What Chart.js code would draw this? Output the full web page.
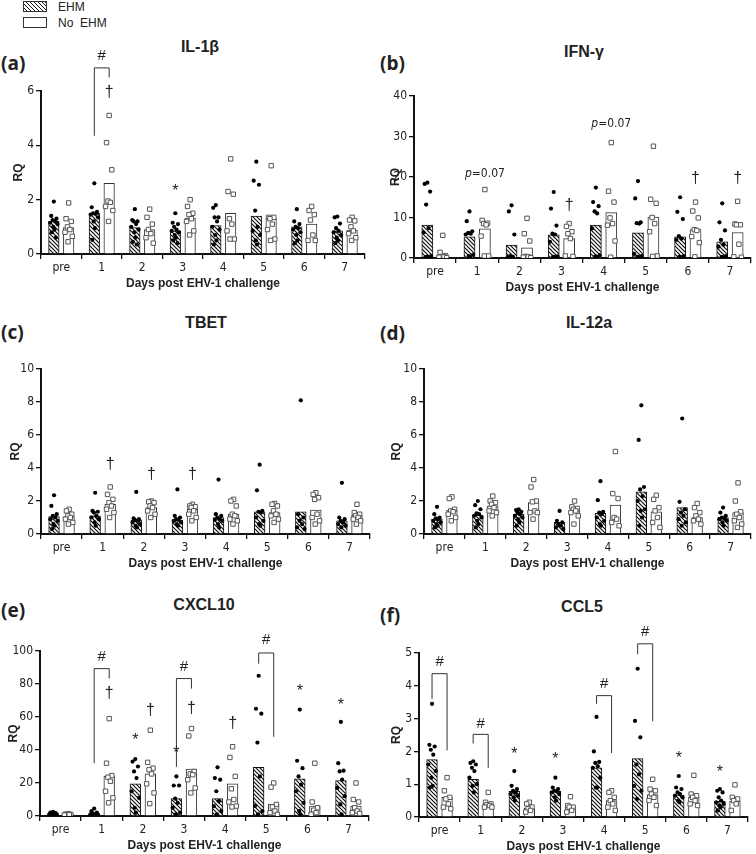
<!DOCTYPE html>
<html>
<head>
<meta charset="utf-8">
<script src="https://cdn.jsdelivr.net/npm/chart.js@4.4.1/dist/chart.umd.min.js"></script>
<style>
  body{margin:0;background:#fff;width:756px;height:854px;position:relative;overflow:hidden;
       font-family:'Liberation Sans',Arial,sans-serif;color:#222}
  canvas{position:absolute}
  .ttl{position:absolute;font-weight:bold;font-size:16px;transform:translate(-50%,-50%);white-space:nowrap}
  .let{position:absolute;font-weight:bold;font-size:19px;transform:translateY(-50%);font-family:'Open Sans','Liberation Sans',sans-serif}
  .leg{position:absolute;left:23px;width:24px;height:11px;border:1px solid #333;box-sizing:border-box}
  .legt{position:absolute;left:58px;font-size:12px;transform:translateY(-50%)}
</style>
</head>
<body>
<div class="leg" style="top:1px;background:repeating-linear-gradient(45deg,#fff 0 1.6px,#111 1.6px 2.8px)"></div>
<div class="legt" style="top:7px">EHM</div>
<div class="leg" style="top:17px;background:#fff"></div>
<div class="legt" style="top:23px">No&nbsp; EHM</div>

<div class="let" style="left:1px;top:63px">(a)</div>
<div class="let" style="left:380px;top:63px">(b)</div>
<div class="let" style="left:1px;top:332px">(c)</div>
<div class="let" style="left:380px;top:333px">(d)</div>
<div class="let" style="left:1px;top:610px">(e)</div>
<div class="let" style="left:380px;top:615px">(f)</div>

<div class="ttl" style="left:200px;top:47px">IL-1β</div>
<div class="ttl" style="left:584px;top:52px">IFN-γ</div>
<div class="ttl" style="left:206px;top:323px">TBET</div>
<div class="ttl" style="left:589px;top:323px">IL-12a</div>
<div class="ttl" style="left:204px;top:605px">CXCL10</div>
<div class="ttl" style="left:582px;top:607px">CCL5</div>

<canvas id="cA"></canvas><canvas id="cB"></canvas>
<canvas id="cC"></canvas><canvas id="cD"></canvas>
<canvas id="cE"></canvas><canvas id="cF"></canvas>

<script>
const days = ['pre','1','2','3','4','5','6','7'];

// ---- IL-1β ----
const il1bBarEHM = [1.2, 1.5, 0.97, 0.85, 1.05, 1.4, 1.0, 0.85];
const il1bBarNo  = [0.97, 2.6, 0.9, 1.32, 1.5, 1.3, 1.1, 0.88];
const il1bPtsEHM = [
  [1.93,1.4,1.3,1.25,1.2,1.15,1.1,1.0,0.9,0.8,0.6],
  [2.6,1.72,1.55,1.5,1.48,1.45,1.35,1.2,0.95,0.52],
  [1.65,1.25,1.2,1.2,1.1,1.0,0.9,0.8,0.6,0.45,0.35],
  [1.5,1.15,1.1,1.0,0.9,0.85,0.8,0.7,0.6,0.5,0.4],
  [1.8,1.7,1.35,1.35,1.2,1.0,0.9,0.7,0.5,0.35],
  [3.4,2.7,2.55,1.6,1.0,0.85,0.7,0.5,0.35],
  [1.65,1.2,1.1,1.0,0.95,0.9,0.8,0.7,0.5,0.4],
  [1.38,1.35,1.12,0.95,0.85,0.8,0.7,0.6,0.5,0.4]
];
const il1bPtsNo = [
  [1.88,1.3,1.2,1.0,0.9,0.8,0.65,0.45],
  [5.1,4.1,3.1,1.95,1.9,1.75,1.6,1.2],
  [1.65,1.35,1.1,0.9,0.75,0.6,0.4],
  [2.0,1.75,1.5,1.45,1.3,1.2,0.85,0.7],
  [3.5,2.3,2.2,1.3,1.1,0.85,0.55,0.55],
  [3.25,1.35,1.35,1.3,1.1,0.9,0.55,0.5],
  [1.75,1.6,1.45,1.25,0.7,0.5,0.5],
  [1.35,1.25,1.22,1.0,0.85,0.75,0.6,0.5]
];
const il1bMarks = [{day:1,grp:'n',y:5.95,t:'†'},{day:3,grp:'e',y:2.4,t:'*'}];
const il1bBrackets = [{day:1,top:6.85,left:4.35,right:6.5,hash:7.3}];

// ---- IFN-γ ----
const ifngBarEHM = [8.1, 5.2, 3.2, 5.7, 8.1, 6.2, 5.2, 4.0];
const ifngBarNo  = [0.8, 7.2, 2.5, 4.8, 11.2, 10.1, 7.0, 6.3];
const ifngPtsEHM = [
  [18.6,18.3,16.4,13.2,7.4,6.3,0.5,0.3,0.2,0.1],
  [11.5,9.1,6.6,6.2,6.0,5.8,0.8,0.5,0.3],
  [13.0,11.5,5.8,0.5,0.3,0.2],
  [16.3,12.2,8.0,6.0,5.8,4.0,0.4,0.3,0.2],
  [17.4,13.8,12.8,11.5,11.0,7.3,0.7,0.4,0.3],
  [19.0,14.7,8.8,8.6,8.5,1.0,0.5,0.3,0.2],
  [15.0,11.4,9.6,5.4,4.8,4.5,0.5,0.3,0.2],
  [13.5,8.8,6.8,4.5,3.3,2.8,0.5,0.3,0.2]
];
const ifngPtsNo = [
  [5.6,1.4,0.6,0.4,0.3,0.2,0.1],
  [16.9,9.3,8.6,8.5,8.2,5.4,0.5,0.5],
  [9.8,6.0,4.2,0.4,0.3,0.2,0.1],
  [8.5,7.8,6.5,6.0,4.8,0.5,0.4],
  [28.5,16.5,13.8,9.9,8.5,8.1,4.2,0.2],
  [27.6,14.5,13.5,10.0,8.5,6.5,0.5,0.4],
  [13.8,11.6,9.9,7.0,6.8,5.3,3.8,0.3],
  [14.0,8.4,8.2,8.2,3.4,0.3,0.2]
];
const ifngMarks = [
  {day:3,grp:'n',y:13,t:'†'},{day:6,grp:'n',y:19.7,t:'†'},{day:7,grp:'n',y:19.7,t:'†'},
  {day:1,grp:'n',y:20.7,t:'p=0.07'},{day:4,grp:'n',y:33,t:'p=0.07'}
];

// ---- TBET ----
const tbetBarEHM = [1.05, 1.1, 0.85, 0.85, 1.0, 1.35, 1.35, 0.8];
const tbetBarNo  = [1.05, 1.8, 1.6, 1.5, 1.2, 1.3, 1.45, 1.15];
const tbetPtsEHM = [
  [2.35,1.7,1.2,1.1,1.0,0.9,0.8,0.6,0.5,0.3],
  [2.5,1.4,1.35,1.3,1.1,1.0,0.9,0.7,0.5],
  [2.55,0.95,0.9,0.85,0.8,0.7,0.6,0.5,0.4],
  [2.7,1.1,1.0,0.9,0.85,0.8,0.7,0.6,0.5],
  [3.3,1.2,1.1,1.0,0.9,0.85,0.8,0.6,0.4],
  [4.2,2.65,1.4,1.35,1.3,1.0,0.8,0.6,0.5],
  [8.1,1.2,1.0,0.8,0.6,0.4,0.3],
  [3.1,1.0,0.9,0.8,0.7,0.6,0.5,0.4]
];
const tbetPtsNo = [
  [1.5,1.4,1.2,1.1,1.0,0.9,0.7,0.6],
  [2.85,2.4,2.1,1.9,1.7,1.5,1.3,1.0],
  [2.0,1.95,1.9,1.7,1.6,1.4,1.2,1.0],
  [1.8,1.7,1.65,1.6,1.4,1.2,1.0,0.8],
  [2.1,2.0,1.7,1.2,1.1,0.9,0.8,0.6],
  [1.85,1.8,1.7,1.4,1.2,1.1,0.9,0.7],
  [2.5,2.4,2.2,2.1,1.2,1.0,0.8,0.6],
  [1.8,1.3,1.2,1.1,1.0,0.9,0.8,0.6]
];
const tbetMarks = [{day:1,grp:'n',y:4.2,t:'†'},{day:2,grp:'n',y:3.6,t:'†'},{day:3,grp:'n',y:3.6,t:'†'}];

// ---- IL-12a ----
const il12BarEHM = [0.9, 1.15, 1.2, 0.7, 1.25, 2.55, 1.6, 1.0];
const il12BarNo  = [1.45, 1.7, 1.9, 1.4, 1.75, 1.35, 1.0, 1.3];
const il12PtsEHM = [
  [1.65,1.2,1.0,0.95,0.9,0.8,0.7,0.6,0.5,0.4],
  [2.0,1.75,1.5,1.25,1.2,1.1,1.0,0.8,0.6,0.4],
  [1.5,1.45,1.35,1.3,1.2,1.1,1.0,0.9,0.7,0.5],
  [1.4,0.8,0.7,0.6,0.5,0.4,0.3],
  [3.2,2.05,1.35,1.3,1.2,1.0,0.8,0.6,0.5],
  [7.8,5.7,2.85,2.7,2.3,2.0,1.5,1.4,1.0,0.5],
  [7.0,1.95,1.5,1.3,1.1,0.9,0.7,0.5],
  [1.6,1.3,1.1,1.0,0.95,0.9,0.8,0.7,0.5]
];
const il12PtsNo = [
  [2.25,2.15,1.5,1.4,1.35,1.2,1.0,0.8],
  [2.3,2.0,1.9,1.8,1.6,1.4,1.3,1.1],
  [3.3,2.85,2.0,1.95,1.4,1.3,1.3,0.9],
  [2.0,1.65,1.55,1.5,1.4,1.3,1.1,0.6],
  [5.0,2.45,2.15,1.0,0.9,0.7,0.5],
  [2.35,2.1,1.6,1.4,1.0,0.7,0.4],
  [1.85,1.6,1.3,1.1,0.9,0.8,0.6],
  [3.1,2.0,1.35,1.2,1.0,0.8,0.6,0.4]
];

// ---- CXCL10 ----
const cxclBarEHM = [1.5, 1.5, 19.5, 10.5, 10.5, 29.5, 22.5, 21.5];
const cxclBarNo  = [1.0, 24, 25.5, 28.5, 19.5, 7.2, 6, 6];
const cxclPtsEHM = [
  [2.5,2.0,1.8,1.5,1.2,1.0,0.8,0.5],
  [4.5,3.0,2.0,1.5,1.2,1.0,0.8,0.5],
  [34.5,33,30,27,23,15,11,5,2],
  [24,18.5,18.5,10.5,8,5,2,1],
  [29.5,23,22,15,9,6,3,1],
  [85,65,62,44.5,24,6,3,1],
  [64.5,33.5,29,24,19,15,8,3,1],
  [57,32,27.5,27,22,17,12,7,1]
];
const cxclPtsNo = [
  [1.3,1.1,1.0,0.9,0.8,0.6],
  [59,32,24.5,23.5,21,15,11,8],
  [52,32.5,29,28,25.5,19.5,14,7.5],
  [53,48.5,27,25.5,25,22,17,14],
  [42,35.5,24,16.5,10,8.5,6,5.5],
  [20,17.5,7,5.5,3,2,1],
  [32,8.5,5,3.5,2,1],
  [20,10,8.5,5,3,2,1.5]
];
const cxclMarks = [
  {day:1,grp:'n',y:74,t:'†'},{day:2,grp:'e',y:47.5,t:'*'},{day:2,grp:'n',y:64,t:'†'},
  {day:3,grp:'e',y:39.5,t:'*'},{day:3,grp:'n',y:65,t:'†'},{day:4,grp:'n',y:56,t:'†'},
  {day:6,grp:'e',y:77,t:'*'},{day:7,grp:'e',y:69,t:'*'}
];
const cxclBrackets = [
  {day:1,top:89.3,left:31.9,right:83.3,hash:96.4},
  {day:3,top:83.3,left:29.8,right:77.2,hash:90.3},
  {day:5,top:98.8,left:92.3,right:48,hash:106.5}
];

// ---- CCL5 ----
const ccl5BarEHM = [1.75, 1.15, 0.78, 0.78, 1.5, 1.78, 0.67, 0.48];
const ccl5BarNo  = [0.6, 0.4, 0.27, 0.3, 0.5, 0.68, 0.6, 0.48];
const ccl5PtsEHM = [
  [3.45,2.2,2.15,2.05,1.9,1.6,1.4,1.2,0.95,0.9],
  [1.7,1.65,1.6,1.5,1.4,1.2,1.0,0.95,0.75],
  [1.4,0.95,0.85,0.8,0.75,0.7,0.65,0.6,0.5],
  [1.2,0.9,0.85,0.8,0.78,0.75,0.7,0.6,0.5],
  [3.05,2.0,1.68,1.65,1.55,1.5,1.2,0.9,0.9],
  [4.52,2.93,2.43,1.6,1.3,0.95,0.8,0.55],
  [1.25,0.9,0.85,0.75,0.7,0.65,0.6,0.5,0.45],
  [0.85,0.8,0.75,0.6,0.5,0.45,0.4,0.35,0.3,0.2]
];
const ccl5PtsNo = [
  [1.2,0.8,0.6,0.55,0.4,0.3,0.25],
  [0.75,0.45,0.4,0.38,0.35,0.3,0.3],
  [0.45,0.4,0.3,0.25,0.2,0.15],
  [0.62,0.35,0.3,0.3,0.2,0.15],
  [0.8,0.75,0.6,0.5,0.4,0.3,0.2],
  [1.15,0.85,0.8,0.7,0.6,0.5,0.35],
  [1.27,0.7,0.65,0.6,0.5,0.4,0.35],
  [0.98,0.6,0.55,0.5,0.4,0.2]
];
const ccl5Marks = [
  {day:2,grp:'e',y:2.0,t:'*'},{day:3,grp:'e',y:1.85,t:'*'},
  {day:6,grp:'e',y:1.88,t:'*'},{day:7,grp:'e',y:1.44,t:'*'}
];
const ccl5Brackets = [
  {day:0,top:4.37,left:3.6,right:2.03,hash:4.73},
  {day:1,top:2.52,left:2.24,right:1.5,hash:2.85},
  {day:4,top:3.7,left:3.45,right:1.95,hash:4.07},
  {day:5,top:5.28,left:4.96,right:2.92,hash:5.64}
];

// ---------------------------------------------------------
const NARROW = "'Liberation Sans Narrow','DejaVu Sans Condensed',Arial,sans-serif";
const SANS = "'Liberation Sans',Arial,sans-serif";
const GOFF = 0.183;   // bar centre offset from day centre (in day units)
const SPREAD = [0,-0.065,0.065,-0.03,0.03,-0.09,0.09,-0.015,0.015,-0.05,0.05,0.08];

function toPoints(groups, side){
  const out = [];
  groups.forEach((vals,i)=>vals.forEach((v,k)=>{
    out.push({x: i + side*GOFF + SPREAD[k%SPREAD.length], y: v});
  }));
  return out;
}
function toBars(vals, side){
  return vals.map((v,i)=>({x: i + side*GOFF, y: v}));
}

function hatchFor(chart){
  if(!chart.$hatch){
    const pc = document.createElement('canvas'); pc.width = pc.height = 4;
    const g = pc.getContext('2d');
    g.fillStyle='#fff'; g.fillRect(0,0,4,4);
    g.strokeStyle='#111'; g.lineWidth=1.2;
    g.beginPath();
    g.moveTo(-1,-1); g.lineTo(5,5);
    g.moveTo(-1,3); g.lineTo(1,5);
    g.moveTo(3,-1); g.lineTo(5,1);
    g.stroke();
    chart.$hatch = chart.ctx.createPattern(pc,'repeat');
  }
  return chart.$hatch;
}

const annot = {
  id:'annot',
  afterDatasetsDraw(chart, args, o){
    const {ctx, scales:{x, y}} = chart;
    ctx.save();
    ctx.strokeStyle='#333'; ctx.fillStyle='#222'; ctx.lineWidth=1;
    ctx.textAlign='center'; ctx.textBaseline='middle';
    (o.brackets||[]).forEach(b=>{
      const xl = x.getPixelForValue(b.day-GOFF), xr = x.getPixelForValue(b.day+GOFF);
      const yt = y.getPixelForValue(b.top);
      ctx.beginPath();
      ctx.moveTo(xl, y.getPixelForValue(b.left)); ctx.lineTo(xl, yt);
      ctx.lineTo(xr, yt); ctx.lineTo(xr, y.getPixelForValue(b.right));
      ctx.stroke();
      ctx.font = '15px '+SANS;
      ctx.fillText('#', (xl+xr)/2, y.getPixelForValue(b.hash));
    });
    (o.marks||[]).forEach(m=>{
      const px = x.getPixelForValue(m.day + (m.grp==='e'?-GOFF:GOFF));
      const py = y.getPixelForValue(m.y);
      if(m.t.startsWith('p=')){
        ctx.font = 'italic 12px '+NARROW;
        const w1 = ctx.measureText('p').width;
        ctx.font = '12px '+NARROW;
        const w2 = ctx.measureText(m.t.slice(1)).width;
        const x0 = px - (w1+w2)/2;
        ctx.textAlign='left';
        ctx.font = 'italic 12px '+NARROW; ctx.fillText('p', x0, py);
        ctx.font = '12px '+NARROW; ctx.fillText(m.t.slice(1), x0+w1, py);
        ctx.textAlign='center';
      } else if(m.t==='*'){
        ctx.font = '16px '+SANS; ctx.fillText('*', px, py+3);
      } else {
        ctx.font = '16px '+SANS; ctx.fillText(m.t, px, py);
      }
    });
    ctx.restore();
  }
};

function panel(id, box, d){
  const cv = document.getElementById(id);
  const cw = 378;
  const top = box.T - 75, h = box.B + 39 - top;
  cv.width = cw; cv.height = h;
  cv.style.left = box.x+'px'; cv.style.top = top+'px';
  cv.style.width = cw+'px'; cv.style.height = h+'px';
  const yw = box.L - box.x - box.padL;
  const bw = (box.R - box.L) / days.length * 0.26;
  new Chart(cv, {
    type:'bar',
    data:{
      datasets:[
        {type:'bar', label:'EHM', data:toBars(d.barE,-1), backgroundColor:c=>hatchFor(c.chart),
         borderColor:'#111', borderWidth:1, barThickness:bw, grouped:false, order:3},
        {type:'bar', label:'No EHM', data:toBars(d.barN,1), backgroundColor:'#fff',
         borderColor:'#333', borderWidth:1, barThickness:bw, grouped:false, order:3},
        {type:'scatter', data:toPoints(d.ptsE,-1), pointStyle:'circle',
         pointRadius:2.1, backgroundColor:'#000', borderWidth:0, order:1},
        {type:'scatter', data:toPoints(d.ptsN,1), pointStyle:'rect',
         pointRadius:3.1, backgroundColor:'#fff', borderColor:'#555', borderWidth:1, order:0}
      ]
    },
    options:{
      responsive:false, animation:false,
      layout:{padding:{left:box.padL, right:box.x+cw-box.R, top:box.T-top, bottom:0}},
      plugins:{legend:{display:false}, tooltip:{enabled:false},
               annot:{marks:d.marks||[], brackets:d.brackets||[]}},
      scales:{
        x:{type:'linear', min:-0.5, max:days.length-0.5, offset:false,
           afterBuildTicks(s){ s.ticks = days.map((_,i)=>({value:i})); },
           grid:{display:true, drawOnChartArea:false, tickLength:5, color:'#111', lineWidth:1.3},
           border:{display:true, color:'#111', width:2},
           ticks:{color:'#222', font:{family:NARROW, size:12}, padding:2, maxRotation:0, autoSkip:false,
                  callback:(v)=>days[v]},
           title:{display:true, text:'Days post EHV-1 challenge', color:'#222',
                  font:{family:SANS, size:12, weight:'bold'}, padding:{top:0,bottom:2}},
           afterFit(s){ s.height = 39; }},
        y:{min:0, max:d.max,
           grid:{display:true, drawOnChartArea:false, tickLength:5, color:'#111', lineWidth:1.3},
           border:{display:true, color:'#111', width:2},
           ticks:{stepSize:d.step, color:'#222', font:{family:NARROW, size:12}, padding:2},
           title:{display:true, text:'RQ', color:'#222', font:{family:SANS, size:12, weight:'bold'},
                  padding:{top:4,bottom:0}},
           afterFit(s){ s.width = yw; }}
      }
    },
    plugins:[annot]
  });
}

panel('cA', {x:0,   L:41,  R:365, T:91,  B:254, padL:7},
  {barE:il1bBarEHM, barN:il1bBarNo, ptsE:il1bPtsEHM, ptsN:il1bPtsNo, max:6, step:2,
   marks:il1bMarks, brackets:il1bBrackets});
panel('cB', {x:378, L:414, R:755, T:96,  B:258, padL:6},
  {barE:ifngBarEHM, barN:ifngBarNo, ptsE:ifngPtsEHM, ptsN:ifngPtsNo, max:40, step:10,
   marks:ifngMarks});
panel('cC', {x:0,   L:41,  R:370, T:369, B:534, padL:4},
  {barE:tbetBarEHM, barN:tbetBarNo, ptsE:tbetPtsEHM, ptsN:tbetPtsNo, max:10, step:2,
   marks:tbetMarks});
panel('cD', {x:378, L:424, R:753, T:369, B:534, padL:7},
  {barE:il12BarEHM, barN:il12BarNo, ptsE:il12PtsEHM, ptsN:il12PtsNo, max:10, step:2});
panel('cE', {x:0,   L:40,  R:369, T:651, B:816, padL:2},
  {barE:cxclBarEHM, barN:cxclBarNo, ptsE:cxclPtsEHM, ptsN:cxclPtsNo, max:100, step:20,
   marks:cxclMarks, brackets:cxclBrackets});
panel('cF', {x:378, L:419, R:748, T:653, B:817, padL:7},
  {barE:ccl5BarEHM, barN:ccl5BarNo, ptsE:ccl5PtsEHM, ptsN:ccl5PtsNo, max:5, step:1,
   marks:ccl5Marks, brackets:ccl5Brackets});
</script>
</body>
</html>
